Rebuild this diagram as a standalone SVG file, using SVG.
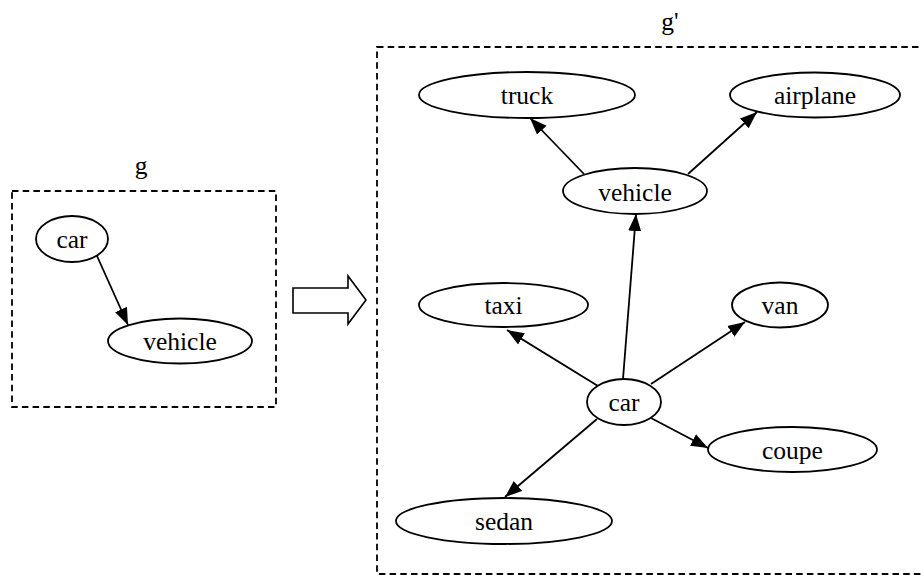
<svg xmlns="http://www.w3.org/2000/svg" width="921" height="575" viewBox="0 0 921 575">
  <style>
    .frame { fill: none; stroke: #000; stroke-width: 1.8; stroke-dasharray: 6.5 4.2; }
    .node ellipse { fill: #fff; stroke: #000; stroke-width: 1.8; }
    text { font-family: "Liberation Serif", "Times New Roman", serif; font-size: 25.5px; fill: #000; text-anchor: middle; }
    .edges line { stroke: #000; stroke-width: 1.8; marker-end: url(#head); }
    .bigarrow { fill: #fff; stroke: #000; stroke-width: 1.6; stroke-linejoin: miter; }
  </style>
  <defs>
    <marker id="head" markerUnits="userSpaceOnUse" markerWidth="18" markerHeight="14" refX="17" refY="7" orient="auto">
      <path d="M0,0.5 L17,7 L0,13.5 Z" fill="#000"/>
    </marker>
  </defs>

  <!-- cluster g -->
  <g id="cluster-g">
    <rect class="frame" x="12" y="191" width="264" height="216"/>
    <text x="141" y="173.5">g</text>
  </g>

  <!-- cluster g' (right side runs off the canvas) -->
  <g id="cluster-g-prime">
    <rect class="frame" x="377" y="47" width="586" height="527"/>
    <text x="670" y="29.5">g'</text>
  </g>

  <!-- transformation arrow -->
  <g id="transform-arrow">
    <polygon class="bigarrow" points="293,288 348,288 348,276 366,300 348,324 348,313 293,313"/>
  </g>

  <!-- connectors -->
  <g id="edges" class="edges">
    <line x1="97" y1="256" x2="128" y2="325"/>
    <line x1="584" y1="174" x2="530" y2="118"/>
    <line x1="688" y1="174" x2="757" y2="112"/>
    <line x1="623" y1="379" x2="636" y2="214"/>
    <line x1="598" y1="386" x2="507" y2="330"/>
    <line x1="651" y1="384" x2="745" y2="322"/>
    <line x1="651" y1="418" x2="708" y2="448"/>
    <line x1="597" y1="419" x2="505" y2="497"/>
  </g>

  <!-- nodes of g -->
  <g id="g-car" class="node">
    <ellipse cx="72" cy="239" rx="36" ry="23"/>
    <text x="72" y="248">car</text>
  </g>
  <g id="g-vehicle" class="node">
    <ellipse cx="180" cy="341" rx="72" ry="22.5"/>
    <text x="180" y="350">vehicle</text>
  </g>

  <!-- nodes of g' -->
  <g id="truck" class="node">
    <ellipse cx="527" cy="95" rx="108" ry="23"/>
    <text x="527" y="104">truck</text>
  </g>
  <g id="airplane" class="node">
    <ellipse cx="815" cy="95" rx="85" ry="22.5"/>
    <text x="815" y="104">airplane</text>
  </g>
  <g id="vehicle" class="node">
    <ellipse cx="635" cy="191" rx="72" ry="23"/>
    <text x="635" y="200.5">vehicle</text>
  </g>
  <g id="taxi" class="node">
    <ellipse cx="503.5" cy="305" rx="84.5" ry="22"/>
    <text x="503.5" y="314">taxi</text>
  </g>
  <g id="van" class="node">
    <ellipse cx="780" cy="305" rx="48" ry="22.5"/>
    <text x="780" y="314">van</text>
  </g>
  <g id="car" class="node">
    <ellipse cx="624" cy="402" rx="37" ry="23"/>
    <text x="624" y="411">car</text>
  </g>
  <g id="coupe" class="node">
    <ellipse cx="792.5" cy="449.5" rx="84.5" ry="22.5"/>
    <text x="792.5" y="458.5">coupe</text>
  </g>
  <g id="sedan" class="node">
    <ellipse cx="504" cy="521" rx="108" ry="23"/>
    <text x="504" y="530">sedan</text>
  </g>
</svg>
